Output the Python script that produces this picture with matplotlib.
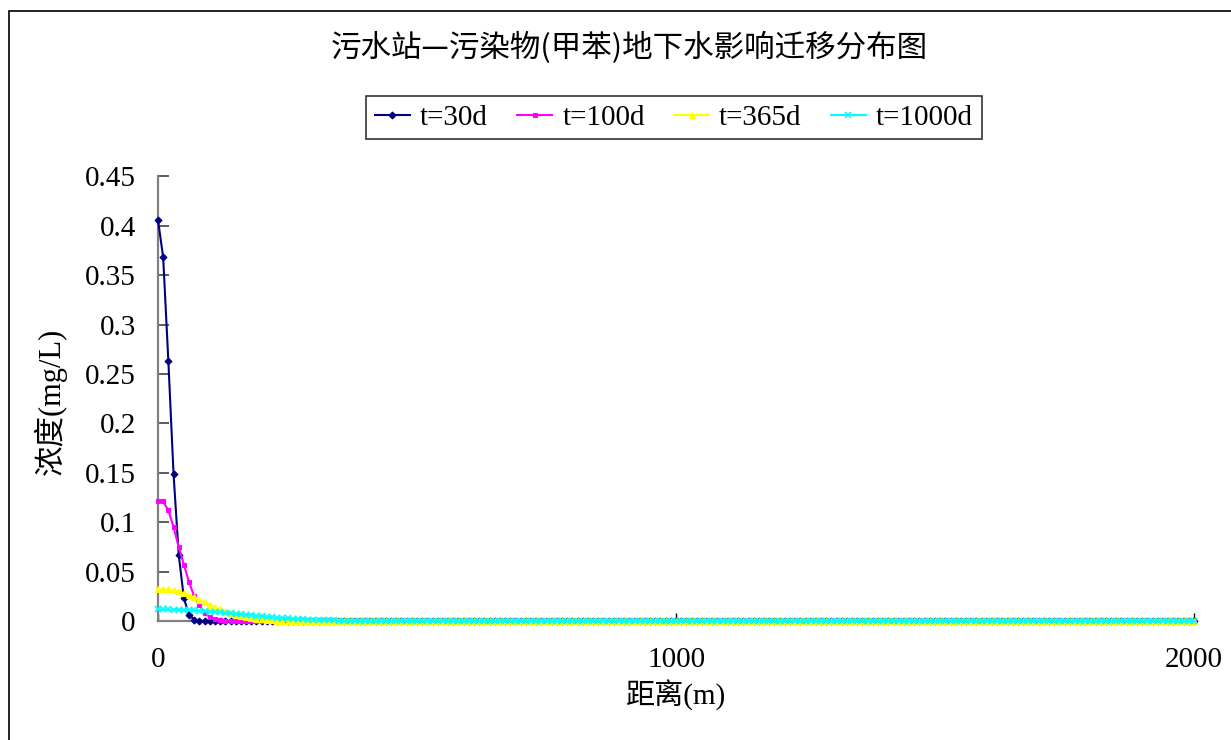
import matplotlib
matplotlib.use("Agg")
import matplotlib.pyplot as plt
from matplotlib.patches import Rectangle

# distance along flow path (m), sampled every 10 m
distance = list(range(0, 2001, 10))
n_points = len(distance)

# concentrations (mg/L) near the source; beyond these the plume is ~0
c_30d_head = [0.406, 0.368, 0.263, 0.149, 0.067, 0.023, 0.006, 0.0015, 0.0003]
c_100d_head = [0.121, 0.121, 0.112, 0.095, 0.075, 0.057, 0.039, 0.025, 0.016,
               0.008, 0.004, 0.002, 0.001, 0.0005, 0.0002]
c_365d_head = [0.032, 0.032, 0.032, 0.031, 0.030, 0.028, 0.026, 0.024, 0.021,
               0.019, 0.016, 0.014, 0.012, 0.010, 0.008, 0.0065, 0.005, 0.004,
               0.003, 0.0022, 0.0016, 0.0011, 0.0008, 0.0005, 0.0003, 0.0002,
               0.0001]
c_1000d_head = [0.0118, 0.0118, 0.0117, 0.0116, 0.0115, 0.0113, 0.0110, 0.0107,
                0.0104, 0.0100, 0.0096, 0.0092, 0.0087, 0.0083, 0.0078, 0.0073,
                0.0068, 0.0063, 0.0058, 0.0053, 0.0048, 0.0044, 0.0039, 0.0035,
                0.0031, 0.0027, 0.0024, 0.0021, 0.0018, 0.0015, 0.0013, 0.0011,
                0.0009, 0.0007, 0.0006, 0.0005, 0.0004, 0.0003, 0.0002, 0.0002,
                0.0001]


def pad_zero(head):
    return head + [0.0] * (n_points - len(head))


c_30d = pad_zero(c_30d_head)
c_100d = pad_zero(c_100d_head)
c_365d = pad_zero(c_365d_head)
c_1000d = pad_zero(c_1000d_head)

series_labels = ["t=30d", "t=100d", "t=365d", "t=1000d"]
series_colors = ["#000080", "#FF00FF", "#FFFF00", "#00FFFF"]
series_markers = ["D", "s", "^", "x"]
series_msize = [3.5, 3.5, 4.5, 4.5]

y_ticks = [0, 0.05, 0.1, 0.15, 0.2, 0.25, 0.3, 0.35, 0.4, 0.45]
y_tick_labels = ["0", "0.05", "0.1", "0.15", "0.2", "0.25", "0.3", "0.35", "0.4", "0.45"]
x_ticks = [0, 1000, 2000]
x_tick_labels = ["0", "1000", "2000"]

title = "污水站—污染物(甲苯)地下水影响迁移分布图"
x_label = "距离(m)"
y_label = "浓度(mg/L)"

FONTS = ["Liberation Serif", "Noto Sans CJK SC", "DejaVu Sans"]
plt.rcParams["font.family"] = FONTS

W, H = 1231, 740
fig = plt.figure(figsize=(W / 100, H / 100), dpi=100)
fig.patch.set_facecolor("white")

# outer chart border
fig.patches.append(Rectangle((9 / W, -0.02), 1.05, 1 - 11 / H + 0.02,
                             transform=fig.transFigure, fill=False,
                             edgecolor="black", linewidth=1.2, clip_on=False))

left, right = 158 / W, 1194 / W
bottom, top = 1 - 621 / H, 1 - 176.5 / H
ax = fig.add_axes([left, bottom, right - left, top - bottom])

for ys, lab, col, mk, ms in zip([c_30d, c_100d, c_365d, c_1000d], series_labels,
                                series_colors, series_markers, series_msize):
    ax.plot(distance, ys, color=col, linewidth=1.5, marker=mk, markersize=ms,
            markeredgewidth=1.2 if mk == "x" else 0.8, label=lab, clip_on=False,
            zorder=3)

ax.set_xlim(0, 2000)
ax.set_ylim(0, 0.45)

for s in ["top", "right"]:
    ax.spines[s].set_visible(False)
for s in ["left", "bottom"]:
    ax.spines[s].set_color("#808080")
    ax.spines[s].set_linewidth(1.6)

ax.set_yticks(y_ticks)
ax.set_yticklabels(y_tick_labels)
ax.set_xticks(x_ticks)
ax.set_xticklabels(x_tick_labels)
ax.tick_params(axis="y", direction="in", length=8, width=1.2, color="#404040",
               pad=16, labelsize=21)
ax.tick_params(axis="x", direction="in", length=6, width=1.0, color="black",
               pad=19, labelsize=21)

# axis titles
fig.text(676 / W, 1 - 695 / H, x_label, ha="center", va="center", fontsize=21)
fig.text(50 / W, 1 - 401 / H, y_label, ha="center", va="center", fontsize=22,
         rotation=90)

fig.text(629 / W, 1 - 48 / H, title, ha="center", va="center", fontsize=22,
         family=["Noto Sans CJK SC", "DejaVu Sans"])

leg = ax.legend(loc="center", bbox_to_anchor=(674 / W, 1 - 117.5 / H),
                bbox_transform=fig.transFigure, ncol=4, fontsize=21,
                frameon=True, fancybox=False, shadow=False, numpoints=1,
                handlelength=1.2, handletextpad=0.35, columnspacing=1.0,
                borderpad=0.3, borderaxespad=0)
leg.get_frame().set_edgecolor("black")
leg.get_frame().set_linewidth(1.2)

fig.savefig("out.png", dpi=100, facecolor="white")
